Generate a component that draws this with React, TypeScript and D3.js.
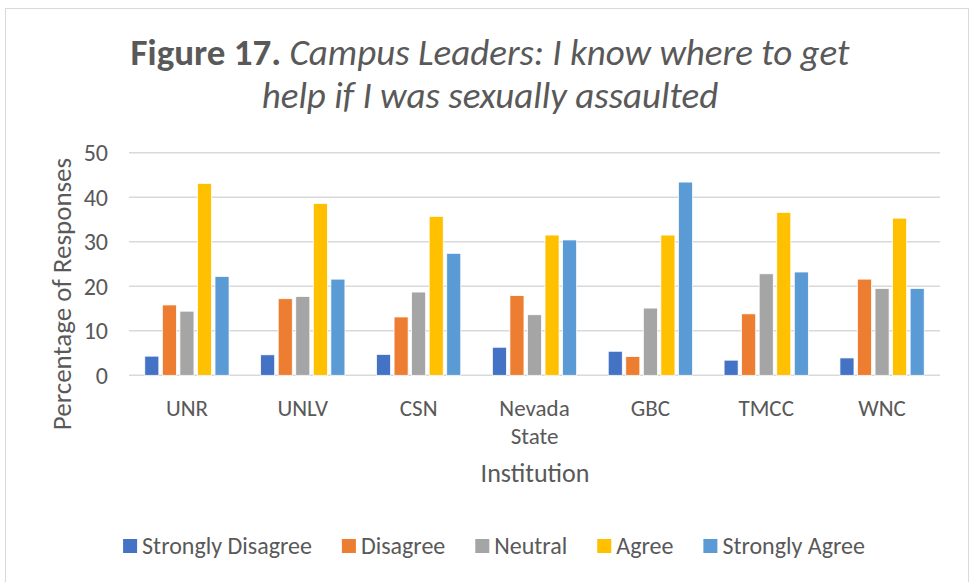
import React, { useEffect, useRef } from 'react';
import { select, scaleBand, scaleLinear } from 'd3';

const institutions = ['UNR', 'UNLV', 'CSN', 'Nevada State', 'GBC', 'TMCC', 'WNC'];
const responses = ['Strongly Disagree', 'Disagree', 'Neutral', 'Agree', 'Strongly Agree'];
const colors = ['#4472C4', '#ED7D31', '#A5A5A5', '#FFC000', '#5B9BD5'];

const stronglyDisagree = [4.3, 4.6, 4.7, 6.3, 5.4, 3.4, 3.9];
const disagree = [15.8, 17.2, 13.1, 17.9, 4.2, 13.8, 21.6];
const neutral = [14.4, 17.7, 18.7, 13.6, 15.1, 22.8, 19.5];
const agree = [43.1, 38.6, 35.7, 31.5, 31.5, 36.6, 35.3];
const stronglyAgree = [22.2, 21.6, 27.4, 30.4, 43.4, 23.2, 19.5];

const yTicks = [0, 10, 20, 30, 40, 50];

const FONT = 'Calibri, Carlito, Lato, sans-serif';
const TEXT = '#595959';

export default function App() {
    const svgRef = useRef<SVGSVGElement>(null);

    useEffect(() => {
        if (!svgRef.current) return;
        const svg = select(svgRef.current);
        svg.html('');

        const width = 971;
        const height = 582;
        const margin = { top: 152.7, right: 31, bottom: 206.7, left: 129 };
        const series = [stronglyDisagree, disagree, neutral, agree, stronglyAgree];

        // chart frame
        svg.append('rect')
            .attr('x', 5.5).attr('y', 8.5)
            .attr('width', 963).attr('height', 580)
            .attr('fill', '#fff')
            .attr('stroke', '#d9d9d9');

        // title
        const title = svg.append('text')
            .attr('x', 490)
            .attr('text-anchor', 'middle')
            .style('font-family', FONT)
            .style('font-size', '37px')
            .style('fill', TEXT);
        const l1 = title.append('tspan').attr('x', 490).attr('y', 65);
        l1.append('tspan').style('font-weight', 'bold').text('Figure 17. ');
        l1.append('tspan').style('font-style', 'italic').text('Campus Leaders: I know where to get');
        title.append('tspan').attr('x', 490).attr('y', 108)
            .style('font-style', 'italic')
            .text('help if I was sexually assaulted');

        const x0 = scaleBand<string>()
            .domain(institutions)
            .range([margin.left, width - margin.right]);
        const x1 = scaleBand<string>()
            .domain(responses)
            .range([0, x0.bandwidth()])
            .paddingInner(0.2)
            .paddingOuter(0.9);
        const y = scaleLinear()
            .domain([0, 50])
            .range([height - margin.bottom, margin.top]);

        // gridlines
        svg.append('g').selectAll('line')
            .data(yTicks)
            .enter().append('line')
            .attr('x1', margin.left).attr('x2', width - margin.right)
            .attr('y1', d => y(d)).attr('y2', d => y(d))
            .attr('stroke', '#d9d9d9')
            .attr('stroke-width', 1.5);

        svg.append('g').selectAll('text')
            .data(yTicks)
            .enter().append('text')
            .attr('x', 108)
            .attr('y', d => y(d))
            .attr('dy', '0.36em')
            .attr('text-anchor', 'end')
            .style('font-family', FONT)
            .style('font-size', '24px')
            .style('fill', TEXT)
            .text(d => d);

        // bars
        const groups = svg.append('g').selectAll('g')
            .data(institutions)
            .enter().append('g')
            .attr('transform', d => `translate(${x0(d)},0)`);
        groups.selectAll('rect')
            .data((_, i) => responses.map((r, j) => ({ r, j, v: series[j][i] })))
            .enter().append('rect')
            .attr('x', d => x1(d.r)!)
            .attr('y', d => y(d.v))
            .attr('width', x1.bandwidth())
            .attr('height', d => y(0) - y(d.v))
            .attr('fill', d => colors[d.j])
            .attr('stroke', '#fff')
            .attr('stroke-width', 0.75);

        // category labels
        const xl = svg.append('g').selectAll('text')
            .data(institutions)
            .enter().append('text')
            .attr('text-anchor', 'middle')
            .style('font-family', FONT)
            .style('font-size', '23px')
            .style('fill', TEXT);
        xl.each(function (d) {
            const words = d.split(' ');
            const cx = x0(d)! + x0.bandwidth() / 2;
            words.forEach((w, k) => {
                select(this).append('tspan')
                    .attr('x', cx)
                    .attr('y', 416 + k * 28)
                    .text(w);
            });
        });

        // axis titles
        svg.append('text')
            .attr('x', 535).attr('y', 482)
            .attr('text-anchor', 'middle')
            .style('font-family', FONT)
            .style('font-size', '26px')
            .style('fill', TEXT)
            .text('Institution');
        svg.append('text')
            .attr('transform', 'translate(71,294) rotate(-90)')
            .attr('text-anchor', 'middle')
            .style('font-family', FONT)
            .style('font-size', '27px')
            .style('fill', TEXT)
            .text('Percentage of Responses');

        // legend
        const legend = svg.append('g');
        let cursor = 0;
        responses.forEach((r, j) => {
            const item = legend.append('g').attr('transform', `translate(${cursor},0)`);
            item.append('rect')
                .attr('x', 0).attr('y', -7)
                .attr('width', 14).attr('height', 14)
                .attr('fill', colors[j]);
            const t = item.append('text')
                .attr('x', 19).attr('y', 8)
                .style('font-family', FONT)
                .style('font-size', '24px')
                .style('fill', TEXT)
                .text(r);
            const tw = (t.node() as SVGTextElement).getComputedTextLength();
            cursor += 19 + tw + 30;
        });
        const total = cursor - 30;
        legend.attr('transform', `translate(${494 - total / 2},546)`);
    }, []);

    return (
        <div style={{ position: 'absolute', left: 0, top: 0 }}>
            <svg ref={svgRef} width={971} height={582}></svg>
        </div>
    );
}
